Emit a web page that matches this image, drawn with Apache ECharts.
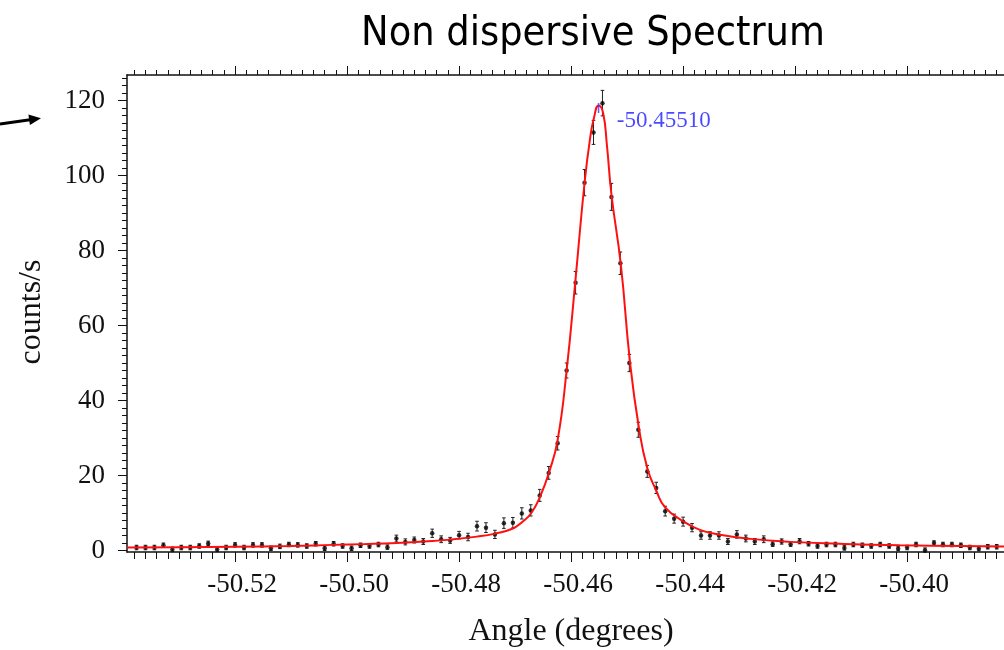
<!DOCTYPE html>
<html>
<head>
<meta charset="utf-8">
<script src="https://cdn.jsdelivr.net/npm/echarts@6/dist/echarts.min.js"></script>
<style>
  html, body { margin: 0; padding: 0; background: #fff; }
  #chart { width: 1004px; height: 650px; }
</style>
</head>
<body>
<div id="chart"></div>
<script>
// Measured angle positions (degrees)
const angles = [
  -50.5376, -50.5360, -50.5344, -50.5328, -50.5312, -50.5296, -50.5280, -50.5264, -50.5248, -50.5232,
  -50.5216, -50.5200, -50.5184, -50.5168, -50.5152, -50.5136, -50.5120, -50.5104, -50.5088, -50.5072,
  -50.5056, -50.5040, -50.5024, -50.5008, -50.4992, -50.4976, -50.4960, -50.4944, -50.4928, -50.4912,
  -50.4896, -50.4880, -50.4864, -50.4848, -50.4832, -50.4816, -50.4800, -50.4784, -50.4768, -50.4752,
  -50.4736, -50.4720, -50.4704, -50.4688, -50.4672, -50.4656, -50.4640, -50.4624, -50.4608, -50.4592,
  -50.4576, -50.4560, -50.4544, -50.4528, -50.4512, -50.4496, -50.4480, -50.4464, -50.4448, -50.4432,
  -50.4416, -50.4400, -50.4384, -50.4368, -50.4352, -50.4336, -50.4320, -50.4304, -50.4288, -50.4272,
  -50.4256, -50.4240, -50.4224, -50.4208, -50.4192, -50.4176, -50.4160, -50.4144, -50.4128, -50.4112,
  -50.4096, -50.4080, -50.4064, -50.4048, -50.4032, -50.4016, -50.4000, -50.3984, -50.3968, -50.3952,
  -50.3936, -50.3920, -50.3904, -50.3888, -50.3872, -50.3856, -50.3840
];

// Count rate at each angle (counts/s)
const counts = [
  0.8, 0.8, 0.8, 1.4, 0.3, 0.8, 0.8, 1.2, 1.9, 0.3,
  0.8, 1.5, 0.8, 1.5, 1.5, 0.6, 1.1, 1.6, 1.5, 1.2,
  1.8, 0.6, 1.8, 1.2, 0.6, 1.4, 1.2, 1.6, 0.9, 3.2,
  2.3, 2.8, 2.4, 4.6, 3.0, 2.7, 4.1, 3.6, 6.5, 6.1,
  4.3, 7.3, 7.4, 9.9, 10.7, 14.7, 20.7, 28.6, 48.0, 71.4,
  98.1, 111.5, 119.3, 94.3, 76.6, 50.0, 32.2, 21.1, 16.7, 10.5,
  8.5, 7.7, 6.1, 4.0, 4.0, 4.0, 2.4, 4.3, 3.2, 2.4,
  3.0, 1.7, 2.4, 1.7, 2.5, 1.8, 1.2, 1.6, 1.6, 0.7,
  1.6, 1.4, 1.2, 1.6, 1.2, 0.5, 0.8, 1.6, 0.1, 2.0,
  1.6, 1.6, 1.4, 0.8, 0.5, 1.0, 1.0
];

// Statistical uncertainty of each count rate
const countErrors = [
  0.6, 0.6, 0.6, 0.6, 0.6, 0.6, 0.6, 0.6, 0.6, 0.6,
  0.6, 0.6, 0.6, 0.6, 0.6, 0.6, 0.6, 0.6, 0.6, 0.6,
  0.6, 0.6, 0.6, 0.6, 0.6, 0.6, 0.6, 0.6, 0.6, 0.9,
  0.8, 0.8, 0.8, 1.1, 0.9, 0.8, 1.0, 1.0, 1.3, 1.3,
  1.1, 1.4, 1.4, 1.5, 1.5, 1.6, 1.7, 1.8, 2.0, 3.0,
  3.5, 3.2, 3.4, 3.6, 3.0, 2.3, 2.0, 1.6, 1.5, 1.3,
  1.2, 1.2, 1.1, 1.0, 1.0, 1.0, 0.8, 1.0, 0.9, 0.8,
  0.9, 0.6, 0.7, 0.6, 0.7, 0.6, 0.6, 0.6, 0.6, 0.6,
  0.6, 0.6, 0.6, 0.6, 0.6, 0.6, 0.6, 0.6, 0.6, 0.6,
  0.6, 0.6, 0.6, 0.6, 0.6, 0.6, 0.6
];

// Fitted peak profile: angle / count-rate pairs along the curve
const fitAngles = [
  -50.5393, -50.5298, -50.5200, -50.5102, -50.5025, -50.4971, -50.4911, -50.4864, -50.4816, -50.4768,
  -50.4736, -50.4705, -50.4688, -50.4671, -50.4655, -50.4639, -50.4624, -50.4608, -50.4592, -50.4576,
  -50.4566, -50.4559, -50.4551, -50.4543, -50.4536, -50.4528, -50.4511, -50.4495, -50.4479, -50.4464,
  -50.4448, -50.4432, -50.4400, -50.4370, -50.4334, -50.4280, -50.4209, -50.4120, -50.4013, -50.3905,
  -50.3752
];
const fitCounts = [
  0.8, 0.9, 1.0, 1.2, 1.5, 1.7, 2.0, 2.4, 2.9, 3.7,
  4.5, 5.8, 7.5, 10.0, 14.5, 21.0, 29.5, 48.0, 72.5, 98.0,
  110.0, 115.5, 118.7, 116.8, 108.0, 95.0, 76.0, 50.5, 32.8, 22.0,
  16.0, 11.5, 7.8, 5.5, 4.2, 3.1, 2.3, 1.8, 1.4, 1.2,
  1.0
];

// Fitted peak centre
const peakAngle = -50.45510;
const peakCount = 118.0;
const peakLabel = '-50.45510';

// Axis tick values
const xMajorTicks = [-50.52, -50.50, -50.48, -50.46, -50.44, -50.42, -50.40, -50.38];
const xLabelTicks = [-50.52, -50.50, -50.48, -50.46, -50.44, -50.42, -50.40];
const yMajorTicks = [0, 20, 40, 60, 80, 100, 120];
const xMinorTicks = [];
for (let i = -19; i <= 82; i++) xMinorTicks.push(+(-50.52 + i * 0.002).toFixed(3));
const yMinorTicks = [];
for (let v = 0; v <= 126; v += 2) yMinorTicks.push(v);

const X_MIN = -50.5393, X_MAX = -50.3752;
const Y_MIN = -0.4, Y_MAX = 126.8;

const serif = "'Liberation Serif', 'Times New Roman', serif";
const ink = '#111';

function xAxisDef(pos, ticks, len, withLine, withLabels) {
  return {
    type: 'value', position: pos, min: X_MIN, max: X_MAX,
    axisLine: { show: withLine, onZero: false, lineStyle: { color: ink, width: 1.5 } },
    axisTick: { show: true, customValues: ticks, length: len, lineStyle: { color: ink, width: 1 } },
    axisLabel: withLabels ? {
      show: true, customValues: xLabelTicks, margin: 19, padding: [0, 0, 0, 14],
      color: ink, fontFamily: serif, fontSize: 27,
      formatter: v => v.toFixed(2)
    } : { show: false },
    splitLine: { show: false }
  };
}
function yAxisDef(ticks, len, withLine, withLabels) {
  return {
    type: 'value', position: 'left', min: Y_MIN, max: Y_MAX,
    axisLine: { show: withLine, onZero: false, lineStyle: { color: ink, width: 1.5 } },
    axisTick: { show: true, customValues: ticks, length: len, lineStyle: { color: ink, width: 1 } },
    axisLabel: withLabels ? {
      show: true, customValues: yMajorTicks, margin: 22,
      color: ink, fontFamily: serif, fontSize: 27
    } : { show: false },
    splitLine: { show: false }
  };
}

const pointData = angles.map((a, i) => [a, counts[i], countErrors[i]]);
const fitData = fitAngles.map((a, i) => [a, fitCounts[i]]);

const chart = echarts.init(document.getElementById('chart'), null, { renderer: 'canvas' });
chart.setOption({
  animation: false,
  backgroundColor: '#fff',
  // plot frame runs past the right edge of the page
  grid: {
    left: 127, top: 75, width: 919, height: 477,
    containLabel: false, outerBoundsMode: 'none'
  },
  xAxis: [
    xAxisDef('bottom', xMajorTicks, 10, true, true),
    xAxisDef('bottom', xMinorTicks, 7, false, false),
    xAxisDef('top', xMajorTicks, 9, true, false),
    xAxisDef('top', xMinorTicks, 5, false, false)
  ],
  yAxis: [
    yAxisDef(yMajorTicks, 9, true, true),
    yAxisDef(yMinorTicks, 5, false, false)
  ],
  series: [
    {
      name: 'errors', type: 'custom', xAxisIndex: 0, yAxisIndex: 0,
      data: pointData, z: 3,
      renderItem: function (params, api) {
        const x = api.value(0), y = api.value(1), e = api.value(2);
        const top = api.coord([x, y + e]);
        const bot = api.coord([x, y - e]);
        const c = 1.8;
        const st = { stroke: '#222', lineWidth: 1 };
        return {
          type: 'group',
          children: [
            { type: 'line', shape: { x1: top[0], y1: top[1], x2: bot[0], y2: bot[1] }, style: st },
            { type: 'line', shape: { x1: top[0] - c, y1: top[1], x2: top[0] + c, y2: top[1] }, style: st },
            { type: 'line', shape: { x1: bot[0] - c, y1: bot[1], x2: bot[0] + c, y2: bot[1] }, style: st }
          ]
        };
      }
    },
    {
      name: 'counts', type: 'scatter', xAxisIndex: 0, yAxisIndex: 0,
      data: pointData.map(p => [p[0], p[1]]),
      symbol: 'circle', symbolSize: 4.5,
      itemStyle: { color: '#000' }, z: 4
    },
    {
      name: 'fit', type: 'line', xAxisIndex: 0, yAxisIndex: 0,
      data: fitData, showSymbol: false, smooth: 0.5,
      lineStyle: { color: '#ff1010', width: 2 }, z: 5
    },
    {
      name: 'peak', type: 'scatter', xAxisIndex: 0, yAxisIndex: 0,
      data: [[peakAngle, peakCount]],
      symbol: 'rect', symbolSize: [1.6, 10],
      itemStyle: { color: '#3b3bff' }, z: 6,
      label: {
        show: true, position: 'right', distance: 17.5, offset: [0, 13],
        formatter: peakLabel, color: '#1c1cff', fontFamily: serif, fontSize: 23
      }
    }
  ],
  graphic: [
    {
      type: 'text', x: 593, y: 34, z: 10,
      style: {
        text: 'Non dispersive Spectrum', fill: '#000',
        font: "41px 'DejaVu Sans Condensed', 'Liberation Sans', sans-serif",
        textAlign: 'center', textVerticalAlign: 'middle'
      }
    },
    {
      type: 'text', x: 571, y: 632, z: 10,
      style: {
        text: 'Angle (degrees)', fill: ink,
        font: '32px ' + serif,
        textAlign: 'center', textVerticalAlign: 'middle'
      }
    },
    {
      type: 'text', x: 32, y: 312, rotation: Math.PI / 2, z: 10,
      style: {
        text: 'counts/s', fill: ink,
        font: '32px ' + serif,
        textAlign: 'center', textVerticalAlign: 'middle'
      }
    },
    {
      type: 'line', z: 10,
      shape: { x1: 0, y1: 124, x2: 30, y2: 119.8 },
      style: { stroke: '#000', lineWidth: 3 }
    },
    {
      type: 'polygon', z: 10,
      shape: { points: [[41, 118.2], [28.4, 114.6], [29.9, 125.0]] },
      style: { fill: '#000' }
    }
  ]
});
</script>
</body>
</html>
